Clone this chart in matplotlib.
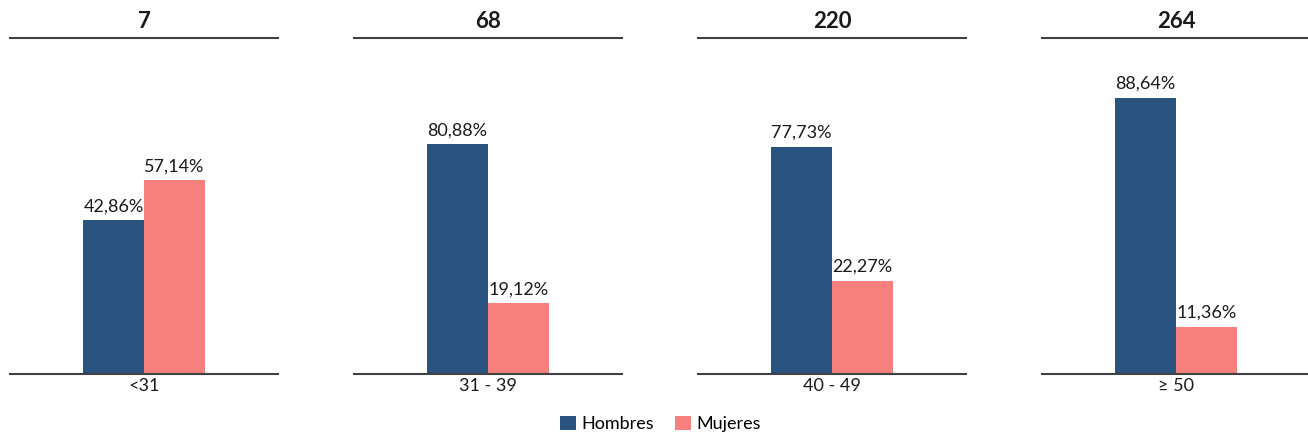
import matplotlib
matplotlib.use("Agg")
import matplotlib.pyplot as plt
from matplotlib.patches import Patch

plt.rcParams['font.family'] = ['Lato', 'DejaVu Sans']

totals = ["7", "68", "220", "264"]
age_groups = ["<31", "31 - 39", "40 - 49", "≥ 50"]
hombres = [42.86, 80.88, 77.73, 88.64]
mujeres = [57.14, 19.12, 22.27, 11.36]
series_names = ["Hombres", "Mujeres"]

# per-panel value ranges (as in the reference, each panel has its own scale)
ylims = [(-11.8, 108.2), (-8.1, 122.4), (-16.2, 122.9), (-4.5, 108.9)]

c_h = "#29527F"
c_m = "#F5807D"
line_c = "#404040"

W, H = 1308, 442
fig = plt.figure(figsize=(W / 100, H / 100), dpi=100)

for i in range(4):
    left = (10 + 344 * i) / W
    ax = fig.add_axes([left, 68.5 / H, 268 / W, 336 / H])
    lo, hi = ylims[i]
    vals = [hombres[i], mujeres[i]]
    bars = ax.bar([0, 1], [v - lo for v in vals], bottom=lo, width=1.0,
                  color=[c_h, c_m], zorder=1)
    for b, v in zip(bars, vals):
        ax.annotate(f"{v:.2f}%".replace(".", ","),
                    xy=(b.get_x() + b.get_width() / 2, v),
                    xytext=(0, 4), textcoords="offset points",
                    ha="center", va="bottom", fontsize=13, color="#1a1a1a")
    ax.set_ylim(lo, hi)
    ax.set_xlim(0.5 - 268 / 61 / 2, 0.5 + 268 / 61 / 2)
    ax.set_xticks([0.5])
    ax.set_xticklabels([age_groups[i]], fontsize=13, color="#1a1a1a")
    ax.tick_params(axis="x", length=0, pad=3.5)
    ax.set_yticks([])
    for s in ["left", "right"]:
        ax.spines[s].set_visible(False)
    for s in ["top", "bottom"]:
        ax.spines[s].set_color(line_c)
        ax.spines[s].set_linewidth(1.5)
    ax.set_title(totals[i], fontsize=16, fontweight="bold", pad=6.5, color="#1a1a1a")

handles = [Patch(facecolor=c_h, label=series_names[0]),
           Patch(facecolor=c_m, label=series_names[1])]
fig.legend(handles=handles, loc="center", bbox_to_anchor=(0.505, 1 - 424 / H),
           ncol=2, frameon=False, fontsize=13, handlelength=0.85, handleheight=0.85,
           handletextpad=0.3, columnspacing=1.2)

fig.savefig("out.png", dpi=100)
